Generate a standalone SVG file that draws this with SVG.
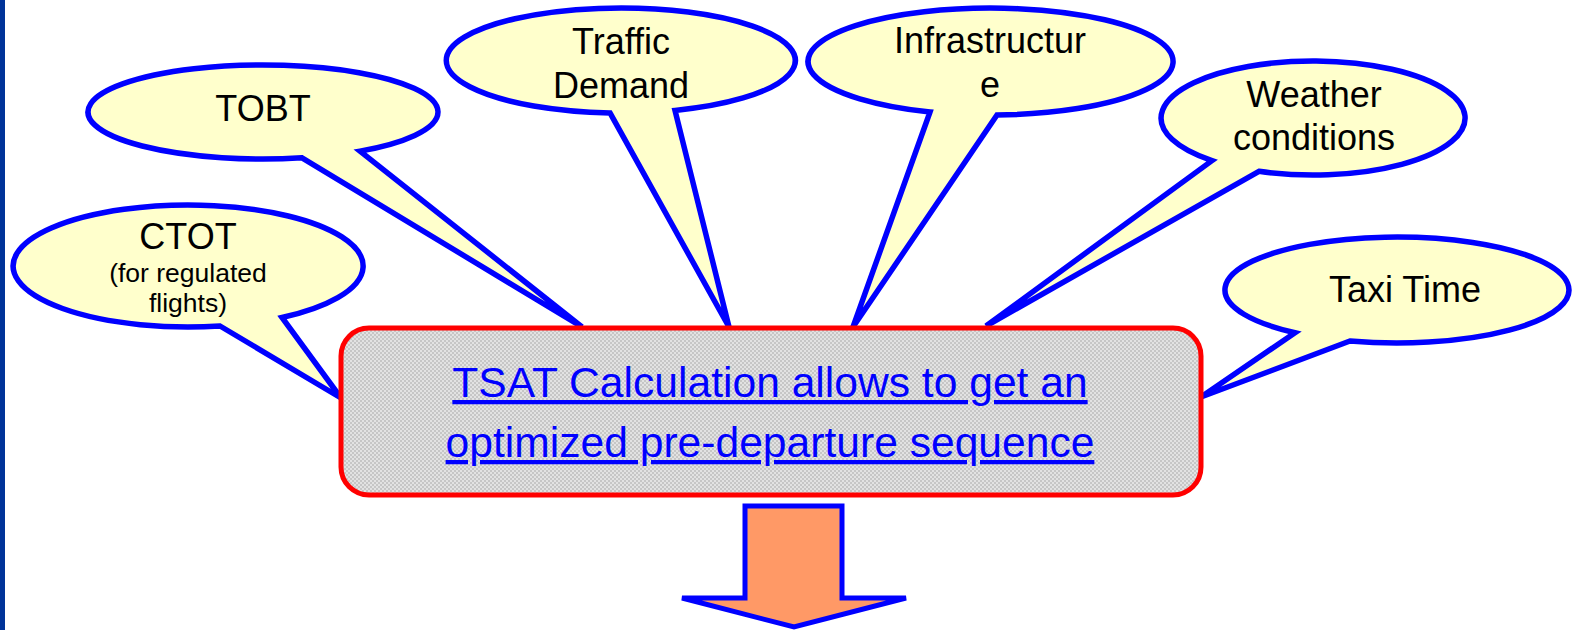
<svg xmlns="http://www.w3.org/2000/svg" width="1577" height="630" viewBox="0 0 1577 630">
<defs>
<style>
.bubble{fill:#FFFFCC;stroke:#0000FF;stroke-width:5.5;stroke-linejoin:miter}
.lbl{font-family:"Liberation Sans",Arial,sans-serif;font-size:36px;fill:#000;text-anchor:middle}
.sub{font-size:26.5px}
.main{font-family:"Liberation Sans",Arial,sans-serif;font-size:42.6px;fill:#0000FF;text-anchor:middle;text-decoration:underline}
</style>
<pattern id="tex" width="4" height="4" patternUnits="userSpaceOnUse">
<rect width="4" height="4" fill="#e2e2e2"/>
<rect x="0" y="0" width="2" height="2" fill="#c6c6c6"/>
<rect x="2" y="2" width="2" height="2" fill="#c6c6c6"/>
</pattern>
</defs>
<rect width="1577" height="630" fill="#FFFFFF"/>
<rect x="0" y="0" width="5" height="630" fill="#003399"/>

<g id="ctot">
<path class="bubble" d="M220,326 L341,398 L282,317.5 A175,61 0 1 0 220,326 Z"/>
<text class="lbl" x="188" y="249">CTOT</text>
<text class="lbl sub" x="188" y="282">(for regulated</text>
<text class="lbl sub" x="188" y="312">flights)</text>
</g>

<g id="tobt">
<path class="bubble" d="M302,157.8 L582,327 L360,151.1 A175,47 0 1 0 302,157.8 Z"/>
<text class="lbl" x="263" y="121">TOBT</text>
</g>

<g id="traffic-demand">
<path class="bubble" d="M610,112.9 L729,327 L675,110.4 A174.5,52.5 0 1 0 610,112.9 Z"/>
<text class="lbl" x="621" y="54">Traffic</text>
<text class="lbl" x="621" y="98">Demand</text>
</g>

<g id="infrastructure">
<path class="bubble" d="M930,112 L853,327 L997,115 A182.5,53.5 0 1 0 930,112 Z"/>
<text class="lbl" x="990" y="53">Infrastructur</text>
<text class="lbl" x="990" y="97">e</text>
</g>

<g id="weather">
<path class="bubble" d="M1212,160.6 L986,326 L1259,171.3 A152,57 0 1 0 1212,160.6 Z"/>
<text class="lbl" x="1314" y="107">Weather</text>
<text class="lbl" x="1314" y="150">conditions</text>
</g>

<g id="taxi-time">
<path class="bubble" d="M1295,332.7 L1201,397 L1350,341 A172,53 0 1 0 1295,332.7 Z"/>
<text class="lbl" x="1405" y="302">Taxi Time</text>
</g>

<g id="tsat">
<rect x="341" y="328" width="860" height="167" rx="28" ry="28" fill="url(#tex)" stroke="#FF0000" stroke-width="5"/>
<text class="main" x="770" y="397">TSAT Calculation allows to get an</text>
<text class="main" x="770" y="457">optimized pre-departure sequence</text>
</g>

<g id="connectors">
<polygon points="745,506 842,506 842,598 906,598 794,627 682,598 745,598" fill="#FF9966" stroke="#0000FF" stroke-width="5" stroke-linejoin="miter"/>
</g>
</svg>
